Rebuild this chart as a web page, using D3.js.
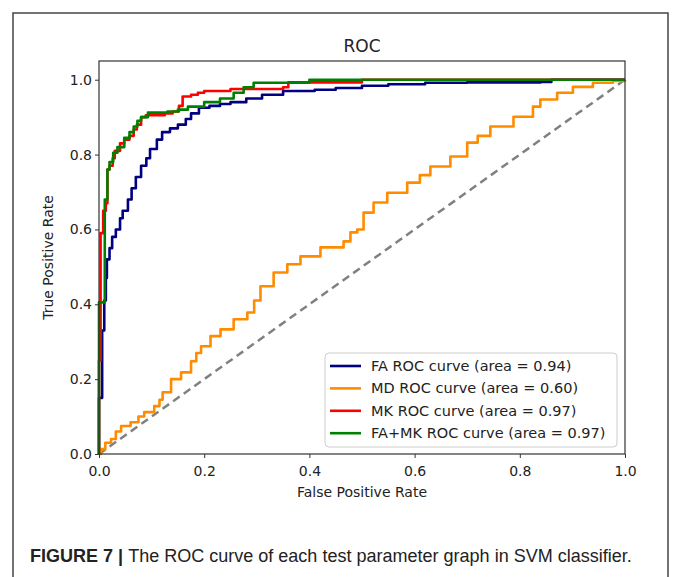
<!DOCTYPE html>
<html>
<head>
<meta charset="utf-8">
<script src="https://cdnjs.cloudflare.com/ajax/libs/d3/7.8.5/d3.min.js"></script>
<style>
  body { margin: 0; background: #fff; }
  svg { display: block; }
</style>
</head>
<body>
<div id="roc-chart"></div>
<script>
// ROC points (false positive rate / true positive rate)
const faFpr = [0, 0, 0.006, 0.01, 0.013, 0.015, 0.02, 0.025, 0.032, 0.04, 0.045, 0.055, 0.062, 0.07, 0.08, 0.09, 0.097, 0.11, 0.12, 0.135, 0.15, 0.165, 0.175, 0.19, 0.21, 0.23, 0.25, 0.28, 0.31, 0.35, 0.41, 0.45, 0.5, 0.55, 0.62, 0.7, 0.84, 0.86, 1];
const faTpr = [0, 0.15, 0.33, 0.41, 0.47, 0.52, 0.55, 0.58, 0.6, 0.63, 0.65, 0.68, 0.71, 0.74, 0.77, 0.79, 0.815, 0.84, 0.86, 0.87, 0.88, 0.895, 0.91, 0.925, 0.93, 0.935, 0.94, 0.95, 0.96, 0.97, 0.973, 0.978, 0.984, 0.988, 0.992, 0.993, 0.994, 1, 1];

const mdFpr = [0, 0.004, 0.012, 0.023, 0.032, 0.042, 0.06, 0.075, 0.086, 0.105, 0.115, 0.121, 0.137, 0.156, 0.175, 0.185, 0.194, 0.212, 0.231, 0.256, 0.282, 0.295, 0.307, 0.332, 0.358, 0.383, 0.421, 0.465, 0.478, 0.491, 0.503, 0.522, 0.548, 0.586, 0.61, 0.63, 0.668, 0.7, 0.72, 0.744, 0.788, 0.825, 0.839, 0.871, 0.901, 0.939, 0.977, 1];
const mdTpr = [0, 0.013, 0.03, 0.04, 0.06, 0.075, 0.085, 0.1, 0.112, 0.128, 0.145, 0.165, 0.2, 0.218, 0.248, 0.27, 0.288, 0.315, 0.333, 0.36, 0.378, 0.41, 0.448, 0.485, 0.507, 0.528, 0.552, 0.568, 0.592, 0.6, 0.645, 0.672, 0.698, 0.725, 0.745, 0.768, 0.795, 0.832, 0.85, 0.875, 0.901, 0.928, 0.947, 0.965, 0.981, 0.992, 0.997, 1];

const mkFpr = [0, 0, 0.003, 0.008, 0.013, 0.016, 0.02, 0.026, 0.03, 0.04, 0.048, 0.058, 0.066, 0.072, 0.08, 0.089, 0.125, 0.14, 0.152, 0.159, 0.175, 0.188, 0.2, 0.25, 0.35, 0.36, 0.5, 1];
const mkTpr = [0, 0.25, 0.59, 0.65, 0.67, 0.76, 0.77, 0.79, 0.81, 0.83, 0.84, 0.85, 0.867, 0.88, 0.9, 0.905, 0.91, 0.915, 0.93, 0.955, 0.96, 0.965, 0.97, 0.975, 0.98, 0.993, 1, 1];

const famkFpr = [0, 0, 0.011, 0.016, 0.02, 0.027, 0.035, 0.048, 0.058, 0.066, 0.073, 0.08, 0.093, 0.13, 0.15, 0.169, 0.2, 0.23, 0.256, 0.275, 0.294, 0.4, 1];
const famkTpr = [0, 0.405, 0.68, 0.76, 0.78, 0.805, 0.82, 0.845, 0.86, 0.875, 0.89, 0.9, 0.912, 0.915, 0.92, 0.928, 0.94, 0.95, 0.965, 0.98, 0.992, 1, 1];

const seriesNames = ['FA', 'MD', 'MK', 'FA+MK'];
const seriesAuc = [0.94, 0.60, 0.97, 0.97];
const seriesColors = ['#000080', '#ff8c00', '#ff0000', '#008000'];
const tickValues = [0, 0.2, 0.4, 0.6, 0.8, 1.0];

const width = 673;
const height = 577;
const margin = { left: 99, right: 48, top: 61, bottom: 123 };

const svg = d3.select('#roc-chart').append('svg')
    .attr('width', width)
    .attr('height', height)
    .style('font-family', 'DejaVu Sans, sans-serif');

svg.append('rect')
    .attr('width', width)
    .attr('height', height)
    .attr('fill', '#fff');

// Outer figure frame (open at the bottom edge of the picture)
svg.append('path')
    .attr('d', `M13,${height} V13 H668 V${height}`)
    .attr('fill', 'none')
    .attr('stroke', '#444')
    .attr('stroke-width', 1.5);

const x = d3.scaleLinear().domain([0, 1]).range([margin.left, width - margin.right]);
const y = d3.scaleLinear().domain([0, 1.05]).range([height - margin.bottom, margin.top]);

const plot = svg.append('g');

// Diagonal reference line
plot.append('line')
    .attr('x1', x(0)).attr('y1', y(0))
    .attr('x2', x(1)).attr('y2', y(1))
    .attr('stroke', '#808080')
    .attr('stroke-width', 2.5)
    .attr('stroke-dasharray', '8,5');

const line = d3.line()
    .x(d => x(d[0]))
    .y(d => y(d[1]))
    .curve(d3.curveStepAfter);

const curves = [
  d3.zip(faFpr, faTpr),
  d3.zip(mdFpr, mdTpr),
  d3.zip(mkFpr, mkTpr),
  d3.zip(famkFpr, famkTpr)
];

curves.forEach((pts, i) => {
  plot.append('path')
      .datum(pts)
      .attr('d', line)
      .attr('fill', 'none')
      .attr('stroke', seriesColors[i])
      .attr('stroke-width', 2.6)
      .attr('stroke-linejoin', 'round');
});

// Axes
const fmt = d3.format('.1f');
const xAxis = svg.append('g')
    .attr('transform', `translate(0,${y(0)})`)
    .call(d3.axisBottom(x).tickValues(tickValues).tickFormat(fmt).tickSize(4).tickSizeOuter(0));
const yAxis = svg.append('g')
    .attr('transform', `translate(${x(0)},0)`)
    .call(d3.axisLeft(y).tickValues(tickValues).tickFormat(fmt).tickSize(4).tickSizeOuter(0));

[xAxis, yAxis].forEach(ax => {
  ax.select('.domain').remove();
  ax.selectAll('line').attr('stroke', '#333').attr('stroke-width', 1);
  ax.selectAll('text')
      .attr('fill', '#222')
      .style('font-family', 'DejaVu Sans, sans-serif')
      .style('font-size', '14px');
});
xAxis.selectAll('text').attr('dy', '1.05em');
yAxis.selectAll('text').attr('x', -7);

// Plot frame
svg.append('rect')
    .attr('x', x(0))
    .attr('y', y(1.05))
    .attr('width', x(1) - x(0))
    .attr('height', y(0) - y(1.05))
    .attr('fill', 'none')
    .attr('stroke', '#333')
    .attr('stroke-width', 1.2);

// Title and axis labels
svg.append('text')
    .text('ROC')
    .attr('x', (x(0) + x(1)) / 2)
    .attr('y', 52)
    .style('text-anchor', 'middle')
    .style('font-size', '17px')
    .attr('fill', '#222');

svg.append('text')
    .text('False Positive Rate')
    .attr('x', (x(0) + x(1)) / 2)
    .attr('y', 497)
    .style('text-anchor', 'middle')
    .style('font-size', '14px')
    .attr('fill', '#222');

svg.append('text')
    .text('True Positive Rate')
    .attr('transform', `translate(53,${(y(0) + y(1.05)) / 2}) rotate(-90)`)
    .style('text-anchor', 'middle')
    .style('font-size', '14px')
    .attr('fill', '#222');

// Legend
const legend = svg.append('g').attr('transform', 'translate(325,353)');
legend.append('rect')
    .attr('width', 292)
    .attr('height', 94)
    .attr('rx', 4)
    .attr('fill', '#fff')
    .attr('fill-opacity', 0.8)
    .attr('stroke', '#ccc');

seriesNames.forEach((name, i) => {
  const rowY = 13 + i * 22.4;
  legend.append('line')
      .attr('x1', 5).attr('x2', 36)
      .attr('y1', rowY).attr('y2', rowY)
      .attr('stroke', seriesColors[i])
      .attr('stroke-width', 2.6);
  legend.append('text')
      .text(`${name} ROC curve (area = ${seriesAuc[i].toFixed(2)})`)
      .attr('x', 46)
      .attr('y', rowY)
      .attr('dy', '0.35em')
      .style('font-size', '14.5px')
      .attr('fill', '#222');
});

// Figure caption, sized so it spans the same width as in the figure
const caption = svg.append('text')
    .attr('x', 30)
    .attr('y', 562)
    .style('font-family', 'Liberation Sans Narrow, Liberation Sans, Arial, sans-serif')
    .style('font-size', '20px')
    .attr('fill', '#222');
caption.append('tspan').text('FIGURE 7 | ').style('font-weight', 'bold');
caption.append('tspan').text('The ROC curve of each test parameter graph in SVM classifier.');
const natural = caption.node().getComputedTextLength();
caption.style('font-size', `${Math.min(20, 20 * 602 / natural)}px`);
</script>
</body>
</html>
